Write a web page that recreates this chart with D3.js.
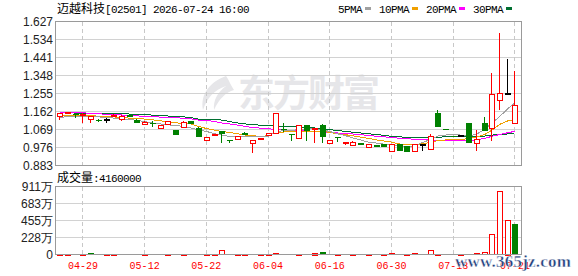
<!doctype html>
<html lang="zh">
<head>
<meta charset="utf-8">
<title>迈越科技 02501</title>
<script src="https://cdn.jsdelivr.net/npm/d3@7"></script>
<style>
  body { margin: 0; background: #fff; }
  svg { display: block; }
  .mono { font-family: "Liberation Mono", "DejaVu Sans Mono", monospace; }
  .cjk { font-family: "Noto Sans CJK SC", sans-serif; }
  .axis text { font-family: "Liberation Sans", Arial, sans-serif; font-size: 12px; fill: #222; }
</style>
</head>
<body>
<svg id="chart" width="578" height="276"></svg>
<script>

// daily bars
var open  = [1.141,1.158,1.151,1.148,1.124,1.118,1.121,1.141,1.124,1.146, 1.116,1.101,1.104,1.073,1.095,1.069,1.084,1.112,1.078,1.016,
             1.045,1.060,1.017,1.021,1.052,0.998,1.017,1.040,1.050,1.071, 1.046,1.021,1.090,1.076,1.090,0.998,1.028,0.996,0.990,0.998,
             0.981,0.990,0.995,0.957,0.995,0.986,0.960,0.992,0.969,1.153, 1.070,1.035,1.038,1.102,1.000,1.102,1.081,1.222,1.260,1.104];
var high  = [1.155,1.160,1.152,1.153,1.140,1.124,1.130,1.148,1.143,1.148, 1.124,1.111,1.112,1.090,1.113,1.069,1.112,1.113,1.080,1.030,
             1.048,1.060,1.017,1.035,1.057,1.017,1.025,1.052,1.155,1.105, 1.047,1.092,1.093,1.079,1.095,1.017,1.030,1.004,1.008,0.998,
             0.996,0.991,0.996,0.996,0.995,0.986,0.995,0.993,1.047,1.171, 1.070,1.036,1.038,1.102,1.064,1.133,1.360,1.567,1.431,1.370];
var low   = [1.116,1.157,1.126,1.101,1.102,1.107,1.105,1.140,1.112,1.136, 1.101,1.100,1.084,1.073,1.094,1.041,1.083,1.098,1.029,1.012,
             1.040,0.998,0.998,1.020,1.040,0.947,1.016,1.038,1.048,1.054, 1.008,1.019,1.009,0.998,0.998,0.997,1.007,0.988,0.989,0.989,
             0.979,0.977,0.978,0.956,0.957,0.957,0.959,0.957,0.968,1.080, 1.067,1.032,1.038,0.999,0.957,1.060,1.012,1.171,1.260,1.104];
var close = [1.155,1.159,1.150,1.150,1.138,1.116,1.121,1.146,1.141,1.138, 1.102,1.110,1.100,1.090,1.112,1.041,1.110,1.099,1.029,1.029,
             1.046,1.047,1.015,1.034,1.042,1.016,1.024,1.050,1.155,1.068, 1.043,1.090,1.060,1.078,1.029,1.016,1.026,1.003,1.007,0.990,
             0.995,0.978,0.978,0.995,0.957,0.957,0.995,0.992,1.034,1.081, 1.068,1.033,1.038,0.999,1.021,1.060,1.255,1.258,1.260,1.197];
var volume = [120000,110000,100000,130000,300000,120000,100000,110000,120000,100000,
              130000,120000,140000,110000,120000,150000,130000,110000,140000,120000,
              130000,570000,120000,110000,100000,130000,110000,120000,140000,110000,
              100000,120000,230000,220000,480000,110000,120000,100000,110000,120000,
              130000,100000,110000,200000,120000,100000,190000,110000,570000,120000,
              110000,100000,120000,130000,180000,310000,2710000,8440000,4670000,4160000];

// moving averages as drawn
var ma5  = [1.133,1.134,1.135,1.136,1.136,1.134,1.131,1.128,1.124,1.121, 1.116,1.110,1.102,1.098,1.093,1.090,1.085,1.078,1.066,1.059,
            1.047,1.041,1.033,1.033,1.033,1.033,1.033,1.035,1.057,1.063, 1.064,1.069,1.073,1.073,1.067,1.059,1.047,1.037,1.026,1.015,
            1.004,0.999,0.994,0.989,0.981,0.981,0.984,1.002,1.017,1.035, 1.040,1.045,1.040,1.035,1.045,1.070,1.100,1.135,1.175,1.205];
var ma10 = [1.141,1.141,1.141,1.141,1.140,1.138,1.136,1.134,1.131,1.128, 1.126,1.123,1.119,1.114,1.109,1.104,1.100,1.098,1.085,1.074,
            1.066,1.059,1.054,1.047,1.041,1.037,1.033,1.037,1.054,1.056, 1.057,1.059,1.059,1.059,1.059,1.054,1.047,1.042,1.037,1.030,
            1.023,1.015,1.010,1.004,0.994,0.992,0.992,0.995,1.002,1.012, 1.015,1.016,1.016,1.023,1.030,1.043,1.064,1.095,1.113,1.121];
var ma20 = [1.158,1.158,1.158,1.155,1.153,1.150,1.148,1.145,1.144,1.141, 1.139,1.138,1.136,1.133,1.131,1.130,1.127,1.124,1.118,1.116,
            1.110,1.103,1.098,1.092,1.086,1.079,1.076,1.073,1.069,1.067, 1.065,1.064,1.061,1.059,1.056,1.054,1.051,1.048,1.046,1.043,
            1.038,1.034,1.031,1.028,1.024,1.021,1.019,1.016,1.015,1.014, 1.012,1.012,1.012,1.012,1.015,1.023,1.033,1.043,1.052,1.059];
var ma30 = [1.155,1.155,1.154,1.154,1.153,1.153,1.152,1.150,1.150,1.149, 1.148,1.147,1.143,1.141,1.139,1.136,1.134,1.131,1.123,1.121,
            1.119,1.118,1.110,1.103,1.098,1.095,1.091,1.090,1.087,1.086, 1.085,1.082,1.079,1.077,1.073,1.068,1.064,1.059,1.055,1.051,
            1.047,1.043,1.039,1.034,1.031,1.029,1.028,1.026,1.028,1.029, 1.031,1.033,1.033,1.034,1.034,1.035,1.040,1.043,1.046,1.047];

var maNames  = ["5PMA", "10PMA", "20PMA", "30PMA"];
var maColors = ["#a0a0a0", "#f0a000", "#ff00ff", "#006f30"];

var priceTicks = [0.883, 0.976, 1.069, 1.162, 1.255, 1.348, 1.441, 1.534, 1.627];
var volTicks = [0, 2277000, 4554000, 6831000, 9108000];
var volTickLabels = ["0", "228万", "455万", "683万", "911万"];
var tickIdx = [3, 11, 19, 27, 35, 43, 51, 59];
var tickLabels = ["04-29", "05-12", "05-22", "06-04", "06-16", "06-30", "07-13", "07-21"];

var RED = "#ff0000", GREEN = "#008000", BLACK = "#000";
var n = close.length;

var svg = d3.select("#chart");

var left = 55.5, right = 521.5;
var x = d3.scaleBand().domain(d3.range(n)).range([55.4, 518.3]).padding(0);
var y = d3.scaleLinear().domain([priceTicks[0], priceTicks[8]]).range([165.5, 21.5]);
var yv = d3.scaleLinear().domain([0, volTicks[4]]).range([254.5, 186.5]);

function cx(i) { return Math.round(x(i) + x.bandwidth() / 2) + 0.5; }
function kColor(i) { return close[i] > open[i] ? RED : (close[i] < open[i] ? GREEN : BLACK); }
function vColor(i) {
  if (i == 0) return close[i] >= open[i] ? RED : GREEN;
  return close[i] >= close[i - 1] ? RED : GREEN;
}

// watermark in the price pane
var wm = svg.append("g").attr("fill", "#e6e6e9");
wm.append("path")
  .attr("d", "M226,76 C210,82 200,94 203,110 C207,98 214,90 226,86 C218,92 213,100 214,110 C219,99 226,92 234,90 C230,84 229,80 226,76 Z");
wm.append("text").attr("class", "cjk").attr("x", 238).attr("y", 107)
  .attr("font-size", 37).attr("font-weight", "bold").attr("textLength", 142)
  .text("东方财富");

// grid
var grid = svg.append("g").attr("shape-rendering", "crispEdges");
grid.selectAll(".hp").data(priceTicks.slice(1, 8)).enter().append("line")
  .attr("x1", left).attr("x2", right)
  .attr("y1", function(d) { return y(d); }).attr("y2", function(d) { return y(d); })
  .attr("stroke", "#d2d2d2");
grid.selectAll(".hv").data(volTicks.slice(1, 4)).enter().append("line")
  .attr("x1", left).attr("x2", right)
  .attr("y1", function(d) { return yv(d); }).attr("y2", function(d) { return yv(d); })
  .attr("stroke", "#d2d2d2");
tickIdx.forEach(function(i) {
  grid.append("line").attr("x1", cx(i)).attr("x2", cx(i)).attr("y1", 21.5).attr("y2", 165.5)
    .attr("stroke", "#c8c8c8").attr("stroke-dasharray", "4,3");
  grid.append("line").attr("x1", cx(i)).attr("x2", cx(i)).attr("y1", 186.5).attr("y2", 254.5)
    .attr("stroke", "#c8c8c8").attr("stroke-dasharray", "4,3");
});

// moving average lines
var mas = [ma5, ma10, ma20, ma30];
var maLine = d3.line().x(function(d, i) { return cx(i); }).y(function(d) { return y(d); });
mas.slice().reverse().forEach(function(arr, k) {
  svg.append("path").attr("d", maLine(arr)).attr("fill", "none")
    .attr("stroke", maColors[3 - k]).attr("stroke-width", 1).attr("shape-rendering", "crispEdges");
});

// candles
var k = svg.append("g").attr("shape-rendering", "crispEdges");
k.selectAll(".wick").data(d3.range(n)).enter().append("line")
  .attr("x1", cx).attr("x2", cx)
  .attr("y1", function(i) { return y(high[i]); })
  .attr("y2", function(i) { return y(low[i]); })
  .attr("stroke", kColor);
k.selectAll(".body").data(d3.range(n)).enter().append("rect")
  .attr("x", function(i) { return kColor(i) == GREEN ? cx(i) - 3 : cx(i) - 2.5; })
  .attr("width", function(i) { return kColor(i) == GREEN ? 6 : 5; })
  .attr("y", function(i) { return Math.round(y(Math.max(open[i], close[i]))) + (kColor(i) == GREEN ? 0 : 0.5); })
  .attr("height", function(i) { return Math.max(1, Math.round(y(Math.min(open[i], close[i])) - y(Math.max(open[i], close[i])))); })
  .attr("fill", function(i) { return kColor(i) == RED ? "#fff" : kColor(i); })
  .attr("stroke", function(i) { return kColor(i) == GREEN ? "none" : kColor(i); });

// volume bars
var v = svg.append("g").attr("shape-rendering", "crispEdges");
v.selectAll("rect").data(d3.range(n)).enter().append("rect")
  .attr("x", function(i) { return vColor(i) == GREEN ? cx(i) - 3 : cx(i) - 2.5; })
  .attr("width", function(i) { return vColor(i) == GREEN ? 6 : 5; })
  .attr("y", function(i) { return Math.round(yv(volume[i])) + 0.5; })
  .attr("height", function(i) { return Math.max(0.5, Math.round(254.5 - yv(volume[i])) - 0.5); })
  .attr("fill", function(i) { return vColor(i) == RED ? "#fff" : GREEN; })
  .attr("stroke", function(i) { return vColor(i) == RED ? RED : "none"; });

// frames
svg.append("rect").attr("x", left).attr("y", 21.5).attr("width", right - left).attr("height", 144)
  .attr("fill", "none").attr("stroke", "#9a9a9a").attr("shape-rendering", "crispEdges");
svg.append("rect").attr("x", left).attr("y", 186.5).attr("width", right - left).attr("height", 68)
  .attr("fill", "none").attr("stroke", "#9a9a9a").attr("shape-rendering", "crispEdges");

// axes
svg.append("g").attr("class", "axis").attr("transform", "translate(54,0)")
  .call(d3.axisLeft(y).tickValues(priceTicks).tickSize(0).tickPadding(1).tickFormat(d3.format(".3f")))
  .call(function(g) { g.select(".domain").remove(); });
svg.append("g").attr("class", "axis").attr("transform", "translate(54,0)")
  .call(d3.axisLeft(yv).tickValues(volTicks).tickSize(0).tickPadding(1)
    .tickFormat(function(d, i) { return volTickLabels[i]; }))
  .call(function(g) { g.select(".domain").remove(); g.selectAll("text").attr("class", "cjk").attr("font-family", "Liberation Sans, Noto Sans CJK SC"); });

var xa = svg.append("g").attr("transform", "translate(0.5,255)")
  .call(d3.axisBottom(x).tickValues(tickIdx).tickSize(0).tickPadding(7)
    .tickFormat(function(d, i) { return tickLabels[i]; }));
xa.select(".domain").remove();
xa.selectAll("text").attr("class", "mono").attr("font-size", 10).attr("fill", RED).attr("font-family", null);

// header
var head = svg.append("text").attr("x", 57).attr("y", 13).attr("fill", "#000");
head.append("tspan").attr("class", "cjk").attr("font-size", 12).text("迈越科技");
head.append("tspan").attr("class", "mono").attr("font-size", 11).attr("letter-spacing", -0.6)
  .text("[02501] 2026-07-24 16:00");

// legend
var lx = 338;
maNames.forEach(function(name, i) {
  svg.append("text").attr("class", "mono").attr("x", lx).attr("y", 13).attr("font-size", 11)
    .attr("letter-spacing", -0.6).attr("fill", "#000").text(name);
  var sx = lx + name.length * 6 + 3;
  svg.append("rect").attr("x", sx).attr("y", 7).attr("width", 6).attr("height", 3).attr("fill", maColors[i]);
  lx = sx + 6 + 8;
});

// volume title
var vt = svg.append("text").attr("x", 57).attr("y", 182).attr("fill", "#000");
vt.append("tspan").attr("class", "cjk").attr("font-size", 12).text("成交量");
vt.append("tspan").attr("class", "mono").attr("font-size", 11).attr("letter-spacing", -0.6)
  .text(":" + volume[n - 1]);

// site mark
svg.append("text").attr("x", 455).attr("y", 267).attr("font-family", "Liberation Serif, serif")
  .attr("font-weight", "bold").attr("font-size", 17).attr("textLength", 116)
  .attr("fill", "#1f3f7d").attr("stroke", "#fff").attr("stroke-width", 0.4)
  .text("www.365jz.com");

</script>
</body>
</html>
